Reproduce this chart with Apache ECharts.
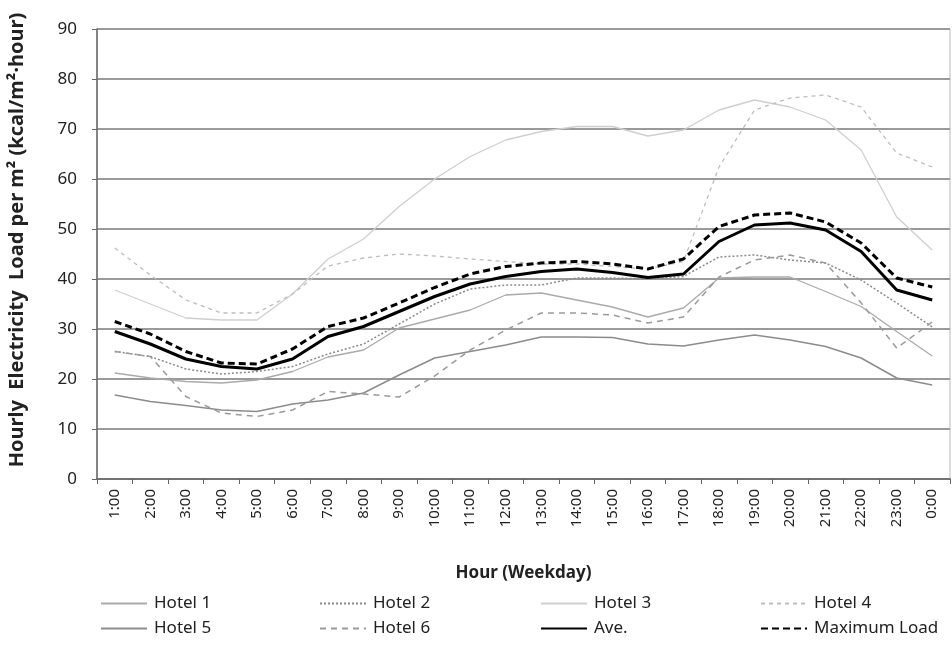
<!DOCTYPE html>
<html>
<head>
<meta charset="utf-8">
<script src="https://cdn.jsdelivr.net/npm/echarts@6/dist/echarts.min.js"></script>
<style>
  html, body { margin: 0; padding: 0; background: #fff; }
  #chart { width: 952px; height: 645px; }
</style>
</head>
<body>
<div id="chart"></div>
<script>
const hours = ['1:00', '2:00', '3:00', '4:00', '5:00', '6:00', '7:00', '8:00', '9:00', '10:00', '11:00', '12:00',
  '13:00', '14:00', '15:00', '16:00', '17:00', '18:00', '19:00', '20:00', '21:00', '22:00', '23:00', '0:00'];

const hotel1 = [21.2, 20.2, 19.5, 19.2, 19.8, 21.5, 24.4, 25.8, 30.2, 32, 33.8, 36.8, 37.2, 35.8, 34.4, 32.4, 34.2, 40.2, 40.4, 40.4, 37.5, 34.5, 29.5, 24.6];
const hotel2 = [25.5, 24.5, 22, 21, 21.5, 22.5, 25, 27, 31, 35, 38, 38.8, 38.8, 40.2, 40.2, 40, 40.5, 44.4, 44.8, 43.8, 43.2, 39.8, 35.2, 30.4];
const hotel3 = [37.8, 35, 32.2, 31.8, 31.8, 37, 44, 48, 54.5, 60, 64.5, 67.8, 69.5, 70.5, 70.5, 68.6, 69.8, 73.8, 75.8, 74.4, 71.8, 65.8, 52.4, 45.8];
const hotel4 = [46.2, 40.8, 35.8, 33.2, 33.2, 37, 42.6, 44.2, 45, 44.6, 44, 43.5, 43, 43, 42.5, 42, 43.5, 62.4, 73.8, 76.2, 76.8, 74.4, 65.2, 62.4];
const hotel5 = [16.8, 15.5, 14.7, 13.8, 13.5, 15, 15.8, 17.2, 20.8, 24.2, 25.5, 26.8, 28.4, 28.4, 28.3, 27, 26.6, 27.8, 28.8, 27.8, 26.5, 24.2, 20.2, 18.8];
const hotel6 = [25.5, 24.5, 16.5, 13.2, 12.5, 13.8, 17.5, 17, 16.4, 20.6, 25.8, 29.8, 33.2, 33.2, 32.8, 31.2, 32.4, 40.4, 43.8, 44.8, 43.2, 35.2, 26.2, 31.4];
const average = [29.5, 27, 24, 22.5, 22, 24, 28.5, 30.5, 33.5, 36.5, 39, 40.5, 41.5, 42, 41.3, 40.3, 41, 47.5, 50.8, 51.2, 49.8, 45.5, 37.8, 35.8];
const maxLoad = [31.5, 29, 25.5, 23.2, 23, 26, 30.5, 32.2, 35.2, 38.3, 41, 42.5, 43.2, 43.5, 43, 42, 44, 50.5, 52.8, 53.2, 51.4, 47.2, 40.2, 38.4];

const chart = echarts.init(document.getElementById('chart'));

function line(name, data, color, width, type, z) {
  return {
    name: name,
    type: 'line',
    data: data,
    symbol: 'none',
    z: z || 2,
    lineStyle: { color: color, width: width, type: type },
    itemStyle: { color: color }
  };
}

// one legend per entry so the 4x2 layout is fixed
function legendItem(left, top, name) {
  return {
    left: left,
    top: top,
    padding: 0,
    itemWidth: 46,
    itemHeight: 10,
    itemGap: 0,
    data: [name],
    itemStyle: { opacity: 0 },
    textStyle: { fontFamily: 'Noto Sans', fontSize: 17, color: '#222', padding: [0, 0, 0, 2] }
  };
}

const option = {
  animation: false,
  backgroundColor: '#fff',
  textStyle: { fontFamily: 'Noto Sans' },
  grid: {
    left: 97,
    right: 2,
    top: 29,
    bottom: 166,
    outerBoundsMode: 'none',
    show: true,
    borderColor: '#bbb',
    borderWidth: 1
  },
  legend: [
    legendItem(100, 595, 'Hotel 1'),
    legendItem(319, 595, 'Hotel 2'),
    legendItem(540, 595, 'Hotel 3'),
    legendItem(760, 595, 'Hotel 4'),
    legendItem(100, 620, 'Hotel 5'),
    legendItem(319, 620, 'Hotel 6'),
    legendItem(540, 620, 'Ave.'),
    legendItem(760, 620, 'Maximum Load')
  ],
  xAxis: {
    type: 'category',
    data: hours,
    boundaryGap: true,
    name: 'Hour (Weekday)',
    nameLocation: 'middle',
    nameGap: 86,
    nameTextStyle: { fontSize: 17, fontWeight: 'bold', color: '#222' },
    axisLine: { lineStyle: { color: '#666', width: 1.5 } },
    axisTick: { show: true, interval: 0, length: 5, lineStyle: { color: '#666' } },
    axisLabel: { rotate: 90, interval: 0, fontSize: 15, color: '#222', margin: 10 }
  },
  yAxis: {
    type: 'value',
    min: 0,
    max: 90,
    interval: 10,
    name: 'Hourly  Electricity  Load per m² (kcal/m²·hour)',
    nameLocation: 'middle',
    nameGap: 70,
    nameTextStyle: { fontSize: 20, fontWeight: 'bold', color: '#222', padding: [0, 0, 0, 28] },
    axisLine: { show: true, lineStyle: { color: '#666', width: 1.5 } },
    axisTick: { show: true, length: 5, lineStyle: { color: '#666' } },
    axisLabel: { fontSize: 17, color: '#222', margin: 20 },
    splitLine: { lineStyle: { color: '#9a9a9a', width: 2 } }
  },
  series: [
    line('Hotel 1', hotel1, '#aaaaaa', 1.3, 'solid'),
    line('Hotel 2', hotel2, '#8a8a8a', 1.5, [2, 2]),
    line('Hotel 3', hotel3, '#cfcfcf', 1.3, 'solid'),
    line('Hotel 4', hotel4, '#bdbdbd', 1.3, [4, 4]),
    line('Hotel 5', hotel5, '#8c8c8c', 1.5, 'solid'),
    line('Hotel 6', hotel6, '#9a9a9a', 1.5, [6, 5]),
    line('Ave.', average, '#000', 3, 'solid', 3),
    line('Maximum Load', maxLoad, '#000', 3, [7, 4], 3)
  ]
};

chart.setOption(option);
</script>
</body>
</html>
